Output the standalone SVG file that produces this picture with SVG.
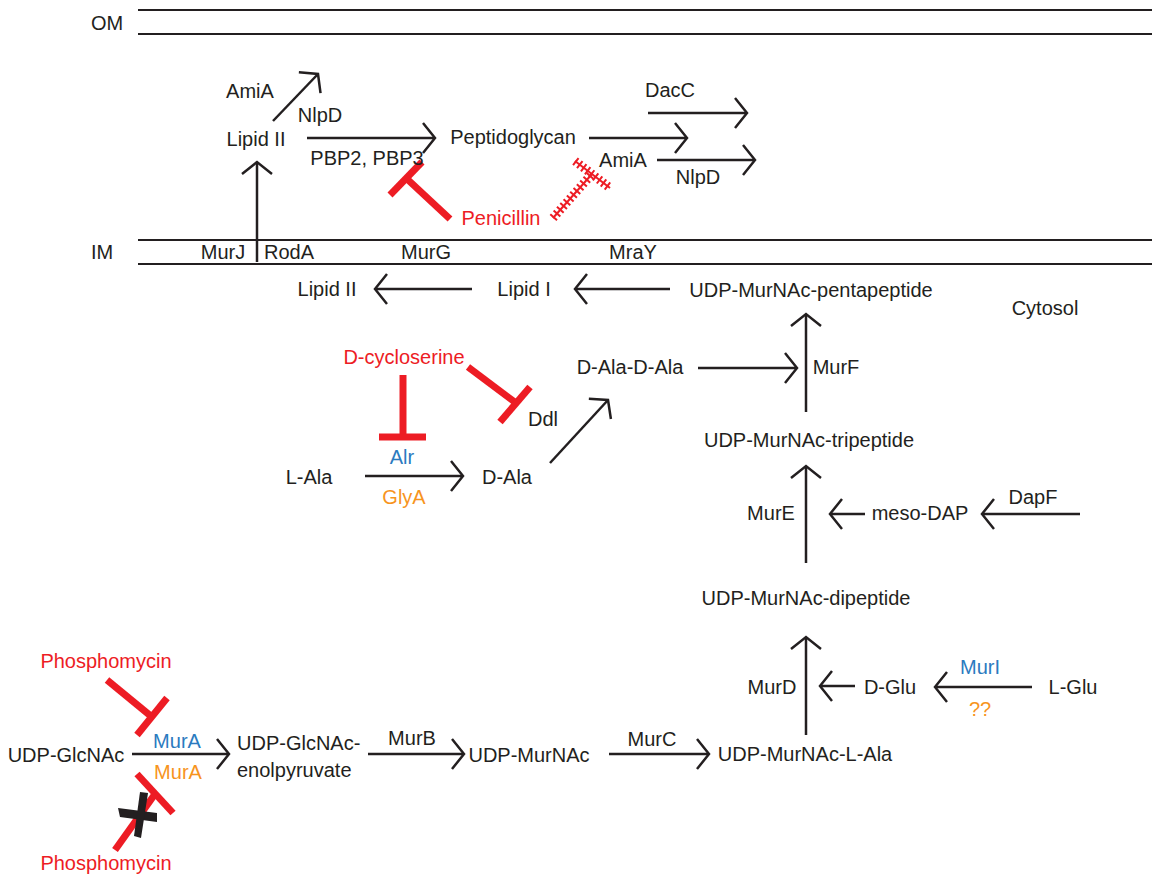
<svg xmlns="http://www.w3.org/2000/svg" width="1152" height="874" viewBox="0 0 1152 874">
<style>
text{font-family:"Liberation Sans",Arial,sans-serif;font-size:20px;fill:#231F20}
.m{text-anchor:middle}
.red{fill:#ED1C24}
.blue{fill:#2B7BBF}
.orange{fill:#F7941D}
.mem{stroke:#231F20;stroke-width:2;fill:none}
.c{stroke:#231F20;stroke-width:2.5;fill:none;marker-end:url(#arr)}
.inh{stroke:#ED1C24;stroke-width:7;fill:none}
.hatch{stroke:#ED1C24;fill:none}
</style>
<defs>
<marker id="arr" markerUnits="userSpaceOnUse" viewBox="-15 -18 18 36" markerWidth="18" markerHeight="36" refX="0" refY="0" orient="auto">
<path d="M-12,-15 L0,0 L-12,15" fill="none" stroke="#231F20" stroke-width="2.5"/>
</marker>
</defs>
<rect width="1152" height="874" fill="#fff"/>

<g id="membranes">
<line class="mem" x1="138" y1="10" x2="1152" y2="10"/>
<line class="mem" x1="138" y1="34" x2="1152" y2="34"/>
<line class="mem" x1="138" y1="240" x2="1152" y2="240"/>
<line class="mem" x1="138" y1="264" x2="1152" y2="264"/>
<text x="107" y="30" class="m">OM</text>
<text x="102" y="259" class="m">IM</text>
<text x="1045" y="315" class="m">Cytosol</text>
</g>

<g id="connectors">
<line class="c" x1="257" y1="262" x2="257" y2="162"/>
<line class="c" x1="273" y1="121" x2="318" y2="74"/>
<line class="c" x1="307" y1="138" x2="435" y2="138"/>
<line class="c" x1="589" y1="138" x2="687" y2="138"/>
<line class="c" x1="648" y1="113" x2="747" y2="113"/>
<line class="c" x1="657" y1="160" x2="755" y2="160"/>
<line class="c" x1="472" y1="289" x2="375" y2="289"/>
<line class="c" x1="670" y1="289" x2="575" y2="289"/>
<line class="c" x1="806" y1="412" x2="806" y2="314"/>
<line class="c" x1="698" y1="368" x2="797" y2="368"/>
<line class="c" x1="550" y1="463" x2="608" y2="400"/>
<line class="c" x1="365" y1="476" x2="463" y2="476"/>
<line class="c" x1="806" y1="563" x2="806" y2="466"/>
<line class="c" x1="865" y1="514" x2="830" y2="514"/>
<line class="c" x1="1080" y1="514" x2="982" y2="514"/>
<line class="c" x1="806" y1="735" x2="806" y2="637"/>
<line class="c" x1="855" y1="686" x2="820" y2="686"/>
<line class="c" x1="1032" y1="687" x2="935" y2="687"/>
<line class="c" x1="132" y1="754" x2="229" y2="754"/>
<line class="c" x1="368" y1="754" x2="464" y2="754"/>
<line class="c" x1="609" y1="754" x2="709" y2="754"/>
</g>

<g id="inhibitors">
<line class="inh" x1="406" y1="178" x2="450" y2="219"/>
<line class="inh" x1="390" y1="195" x2="422" y2="162"/>
<line class="hatch" stroke-width="2" x1="553" y1="218" x2="592" y2="174"/>
<line class="hatch" stroke-width="2" x1="575" y1="161" x2="610" y2="188"/>
<line class="hatch" stroke-width="9" stroke-dasharray="2 3" x1="553" y1="218" x2="592" y2="174"/>
<line class="hatch" stroke-width="9" stroke-dasharray="2 3" x1="575" y1="161" x2="610" y2="188"/>
<line class="inh" x1="403" y1="375" x2="403" y2="437"/>
<line class="inh" x1="379" y1="437" x2="426" y2="437"/>
<line class="inh" x1="468" y1="367" x2="516" y2="403"/>
<line class="inh" x1="500" y1="422" x2="530" y2="387"/>
<line class="inh" x1="107" y1="680" x2="152" y2="717"/>
<line class="inh" x1="137" y1="735" x2="167" y2="698"/>
<line class="inh" x1="137" y1="774" x2="173" y2="813"/>
<line class="inh" x1="155" y1="794" x2="115" y2="850"/>
<polygon fill="#231F20" points="118,808 157,813 157,822 120,817"/>
<polygon fill="#231F20" points="140,792 148,793 141,838 134,836"/>
</g>

<g id="n-lipid2-om"><text x="256" y="146" class="m">Lipid II</text></g>
<g id="n-amia1"><text x="250" y="98" class="m">AmiA</text></g>
<g id="n-nlpd1"><text x="320" y="122" class="m">NlpD</text></g>
<g id="n-pbp"><text x="367" y="165" class="m">PBP2, PBP3</text></g>
<g id="n-pg"><text x="513" y="144" class="m">Peptidoglycan</text></g>
<g id="n-dacc"><text x="670" y="97" class="m">DacC</text></g>
<g id="n-amia2"><text x="623" y="167" class="m">AmiA</text></g>
<g id="n-nlpd2"><text x="698" y="184" class="m">NlpD</text></g>
<g id="n-penicillin"><text x="501" y="225" class="m red">Penicillin</text></g>
<g id="n-murj"><text x="223" y="259" class="m">MurJ</text></g>
<g id="n-roda"><text x="289" y="259" class="m">RodA</text></g>
<g id="n-murg"><text x="426" y="259" class="m">MurG</text></g>
<g id="n-mray"><text x="633" y="259" class="m">MraY</text></g>
<g id="n-lipid2"><text x="327" y="296" class="m">Lipid II</text></g>
<g id="n-lipid1"><text x="524" y="296" class="m">Lipid I</text></g>
<g id="n-penta"><text x="811" y="297" class="m">UDP-MurNAc-pentapeptide</text></g>
<g id="n-dcs"><text x="404" y="364" class="m red">D-cycloserine</text></g>
<g id="n-dada"><text x="630" y="374" class="m">D-Ala-D-Ala</text></g>
<g id="n-murf"><text x="836" y="374" class="m">MurF</text></g>
<g id="n-ddl"><text x="543" y="426" class="m">Ddl</text></g>
<g id="n-tri"><text x="809" y="447" class="m">UDP-MurNAc-tripeptide</text></g>
<g id="n-alr"><text x="402" y="464" class="m blue">Alr</text></g>
<g id="n-lala"><text x="309" y="484" class="m">L-Ala</text></g>
<g id="n-dala"><text x="507" y="484" class="m">D-Ala</text></g>
<g id="n-glya"><text x="404" y="504" class="m orange">GlyA</text></g>
<g id="n-dapf"><text x="1033" y="504" class="m">DapF</text></g>
<g id="n-mure"><text x="771" y="520" class="m">MurE</text></g>
<g id="n-dap"><text x="920" y="520" class="m">meso-DAP</text></g>
<g id="n-di"><text x="806" y="605" class="m">UDP-MurNAc-dipeptide</text></g>
<g id="n-phos1"><text x="106" y="668" class="m red">Phosphomycin</text></g>
<g id="n-muri"><text x="980" y="674" class="m blue">MurI</text></g>
<g id="n-murd"><text x="772" y="694" class="m">MurD</text></g>
<g id="n-dglu"><text x="890" y="694" class="m">D-Glu</text></g>
<g id="n-lglu"><text x="1073" y="694" class="m">L-Glu</text></g>
<g id="n-qq"><text x="980" y="716" class="m orange">??</text></g>
<g id="n-murb"><text x="412" y="745" class="m">MurB</text></g>
<g id="n-murc"><text x="652" y="746" class="m">MurC</text></g>
<g id="n-enol"><text x="237" y="750">UDP-GlcNAc-</text><text x="237" y="777">enolpyruvate</text></g>
<g id="n-mura1"><text x="177" y="748" class="m blue">MurA</text></g>
<g id="n-mura2"><text x="178" y="779" class="m orange">MurA</text></g>
<g id="n-glcnac"><text x="66" y="762" class="m">UDP-GlcNAc</text></g>
<g id="n-murnac"><text x="529" y="762" class="m">UDP-MurNAc</text></g>
<g id="n-lala2"><text x="805" y="761" class="m">UDP-MurNAc-L-Ala</text></g>
<g id="n-phos2"><text x="106" y="870" class="m red">Phosphomycin</text></g>
</svg>
